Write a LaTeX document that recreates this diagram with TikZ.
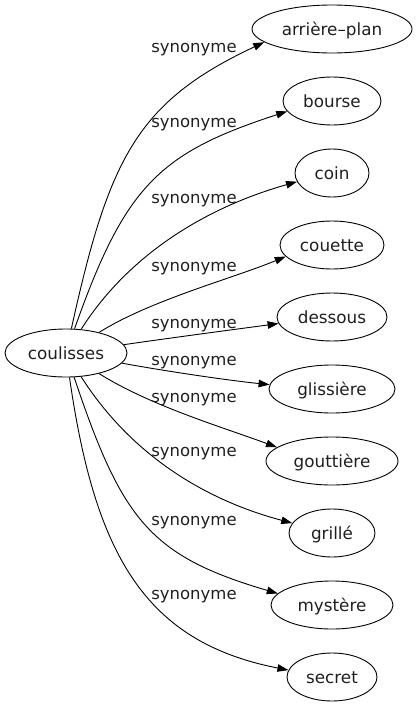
\documentclass[tikz,border=0pt]{standalone}
\usepackage{fontspec}
\setmainfont{DejaVu Sans}
\usetikzlibrary{shapes.geometric,arrows.meta}
\begin{document}
\begin{tikzpicture}[x=1pt,y=-1pt,
  word/.style={ellipse,draw,line width=0.9pt,inner sep=0pt,minimum height=48pt,
    text height=12pt,text depth=0pt,font=\fontsize{16.8}{18}\selectfont,text=black!88},
  edge/.style={draw,line width=0.9pt,-{Triangle[length=11pt,width=7.5pt]}},
  lbl/.style={anchor=base,font=\fontsize{16.5}{18}\selectfont,inner sep=0pt,text=black!88}]
\useasboundingbox (0,0) rectangle (417,707);
\node[word,minimum width=122pt] (c) at (66,353) {coulisses};
\node[word,minimum width=160pt] (n1) at (332,29) {arrière–plan};
\node[word,minimum width=98pt] (n2) at (332,101) {bourse};
\node[word,minimum width=74pt] (n3) at (332,173) {coin};
\node[word,minimum width=104pt] (n4) at (332,245) {couette};
\node[word,minimum width=110pt] (n5) at (332,317) {dessous};
\node[word,minimum width=126pt] (n6) at (332,389) {glissière};
\node[word,minimum width=132pt] (n7) at (332,461) {gouttière};
\node[word,minimum width=86pt] (n8) at (332,533) {grillé};
\node[word,minimum width=122pt] (n9) at (332,605) {mystère};
\node[word,minimum width=90pt] (n10) at (332,677) {secret};
\draw[edge] (c) .. controls (109,158) and (137,102) .. (n1.191.5);
\draw[edge] (c) .. controls (125,186) and (159,153) .. (n2.193.7);
\draw[edge] (c) .. controls (131,251) and (211,206) .. (n3.194.4);
\draw[edge] (c) .. controls (151,300) and (231,279) .. (n4.194.9);
\draw[edge] (c) .. controls (170,338) and (230,330) .. (n5.187.3);
\draw[edge] (c) .. controls (165,371) and (225,380) .. (n6.176.3);
\draw[edge] (c) .. controls (151,406) and (222,427) .. (n7.166.7);
\draw[edge] (c) .. controls (131,455) and (205,500) .. (n8.166.6);
\draw[edge] (c) .. controls (122,520) and (150,556) .. (n9.168.5);
\draw[edge] (c) .. controls (95,555) and (145,642) .. (n10.171.2);
\node[lbl] (l1) at (194,52) {synonyme};
\node[lbl] (l2) at (194,127) {synonyme};
\node[lbl] (l3) at (194,203) {synonyme};
\node[lbl] (l4) at (194,271) {synonyme};
\node[lbl] (l5) at (194,328) {synonyme};
\node[lbl] (l6) at (194,365) {synonyme};
\node[lbl] (l7) at (194,402) {synonyme};
\node[lbl] (l8) at (194,456) {synonyme};
\node[lbl] (l9) at (194,525) {synonyme};
\node[lbl] (l10) at (194,599) {synonyme};
\end{tikzpicture}
\end{document}
